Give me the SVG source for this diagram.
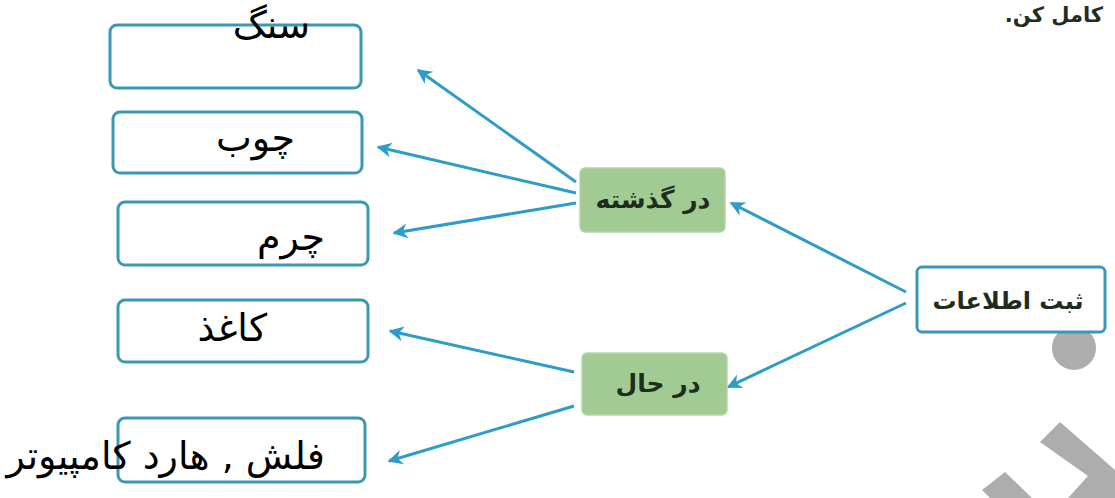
<svg xmlns="http://www.w3.org/2000/svg" width="1115" height="498" viewBox="0 0 1115 498">
<style>
.box{fill:#ffffff;stroke:#3b98b5;stroke-width:3}
.green{fill:#a2cb93;stroke:#b5d6a8;stroke-width:1.5}
.lbl{font-family:"DejaVu Sans","Liberation Sans",sans-serif;font-size:38px;fill:#000}
.bold{font-family:"DejaVu Sans","Liberation Sans",sans-serif;font-weight:bold;fill:#1e2e1e}
.conn{stroke:#2e9cc9;stroke-width:3;fill:none;marker-end:url(#ah)}
.wm{fill:#adadad}
</style>
<defs>
<marker id="ah" viewBox="0 0 10 10" refX="9" refY="5" markerWidth="6.5" markerHeight="5" orient="auto" markerUnits="strokeWidth">
<path d="M0,0 L10,5 L0,10 L3,5 z" fill="#2e9cc9"/>
</marker>
</defs>
<rect width="1115" height="498" fill="#ffffff"/>
<g id="watermark">
<circle class="wm" cx="1074" cy="348" r="22"/>
<polygon class="wm" points="1040,442 1060,422 1115,470 1115,498 1068,498 1088,476"/>
<polygon class="wm" points="982,490 1005,472 1032,498 990,498"/>
</g>
<text id="title" x="1103" y="22" direction="rtl" text-anchor="start" class="bold" font-size="21" fill="#3a3a3a">کامل کن.</text>
<g id="connectors">
<line class="conn" x1="576" y1="182" x2="418" y2="70"/>
<line class="conn" x1="576" y1="193" x2="378" y2="147"/>
<line class="conn" x1="576" y1="203" x2="394" y2="233"/>
<line class="conn" x1="574" y1="372" x2="390" y2="331"/>
<line class="conn" x1="574" y1="406" x2="389" y2="461"/>
<line class="conn" x1="906" y1="292" x2="731" y2="203"/>
<line class="conn" x1="906" y1="303" x2="728" y2="387"/>
</g>
<g id="n-sang">
<rect class="box" x="110" y="25" width="251" height="63" rx="7"/>
<text class="lbl" x="310" y="38" text-anchor="end">سنگ</text>
</g>
<g id="n-chub">
<rect class="box" x="113" y="112" width="249" height="61" rx="7"/>
<text class="lbl" x="295" y="151" text-anchor="end">چوب</text>
</g>
<g id="n-charm">
<rect class="box" x="118" y="202" width="250" height="63" rx="7"/>
<text class="lbl" x="325" y="250" text-anchor="end">چرم</text>
</g>
<g id="n-kaghaz">
<rect class="box" x="118" y="300" width="250" height="62" rx="7"/>
<text class="lbl" x="267" y="341" text-anchor="end">کاغذ</text>
</g>
<g id="n-flash">
<rect class="box" x="118" y="418" width="247" height="64" rx="7"/>
<text class="lbl" x="325" y="469" text-anchor="end" font-size="37">فلش , هارد کامپیوتر</text>
</g>
<g id="n-gozashte">
<rect class="green" x="580" y="168" width="145" height="64" rx="5"/>
<text class="bold" x="653" y="208" text-anchor="middle" font-size="25">در گذشته</text>
</g>
<g id="n-hal">
<rect class="green" x="582" y="353" width="145" height="62" rx="5"/>
<text class="bold" x="658" y="392" text-anchor="middle" font-size="25">در حال</text>
</g>
<g id="n-sabt">
<rect class="box" x="917" y="267" width="188" height="65" rx="5" stroke-width="2.5"/>
<text class="bold" x="1008" y="309" text-anchor="middle" font-size="24">ثبت اطلاعات</text>
</g>
</svg>
